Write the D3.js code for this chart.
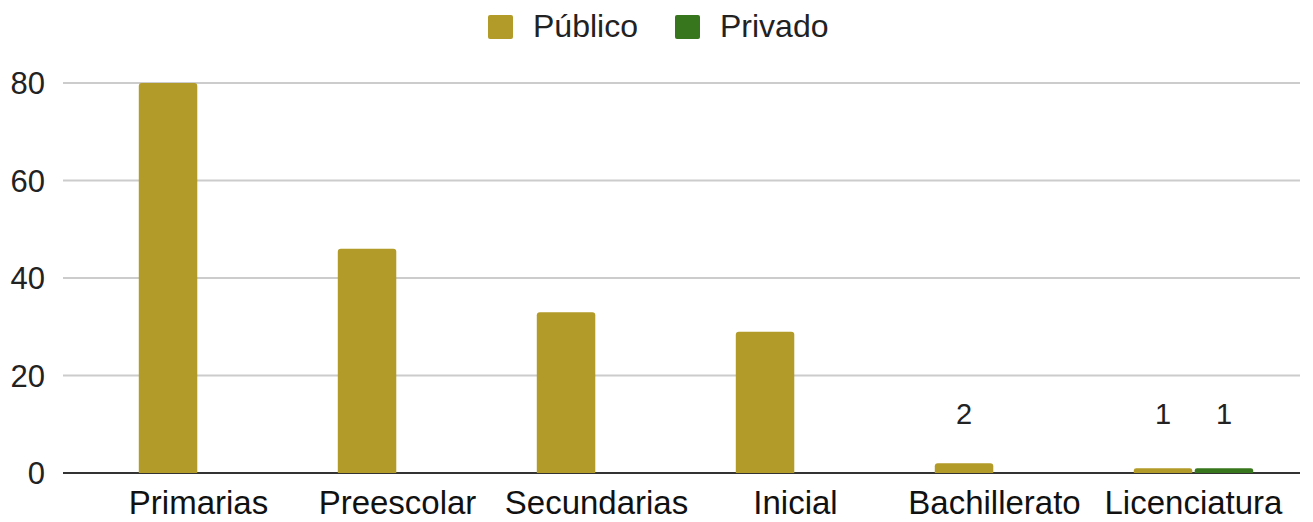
<!DOCTYPE html>
<meta charset="utf-8">
<script src="https://d3js.org/d3.v7.min.js"></script>

<style>
  body { margin: 0; background: #fff; }
  text { font-family: "Liberation Sans", Arial, sans-serif; }
</style>

<body>
  <svg id='svg'></svg>
</body>

<script>
  let width = 1313;
  let height = 522;

  let categories = ['Primarias', 'Preescolar', 'Secundarias', 'Inicial', 'Bachillerato', 'Licenciatura'];
  let series = ['Público', 'Privado'];
  let publico = [80, 46, 33, 29, 2, 1];
  let privado = [0, 0, 0, 0, 0, 1];
  let yTicks = [0, 20, 40, 60, 80];
  let colors = ['#b29b29', '#38761d'];

  let svg = d3.select('#svg')
    .attr('width', width)
    .attr('height', height);

  let x0 = d3.scaleBand()
    .domain(categories)
    .range([99, 1293])
    .paddingInner(0.4)
    .paddingOuter(0.2);

  let x1 = d3.scaleBand()
    .domain(series)
    .range([0, x0.bandwidth()])
    .paddingInner(0.04);

  let y = d3.scaleLinear()
    .domain([0, 80])
    .range([473, 83]);

  // gridlines
  svg.append('g')
    .selectAll('line')
    .data(yTicks)
    .enter()
    .append('line')
    .attr('x1', 63)
    .attr('x2', 1300)
    .attr('y1', d => y(d))
    .attr('y2', d => y(d))
    .attr('stroke', d => d === 0 ? '#333' : '#ccc')
    .attr('stroke-width', 2);

  svg.append('g')
    .selectAll('text')
    .data(yTicks)
    .enter()
    .append('text')
    .attr('x', 45)
    .attr('y', d => y(d))
    .attr('dy', '0.36em')
    .attr('text-anchor', 'end')
    .attr('font-size', 31)
    .attr('fill', '#222')
    .text(d => d);

  function barPath(x, w, y0, y1) {
    let r = Math.min(3, (y0 - y1) / 2, w / 2);
    return `M${x},${y0}V${y1 + r}Q${x},${y1} ${x + r},${y1}H${x + w - r}Q${x + w},${y1} ${x + w},${y1 + r}V${y0}Z`;
  }

  let rows = categories.map((c, i) => ({cat: c, vals: [publico[i], privado[i]]}));

  let groups = svg.append('g')
    .selectAll('g')
    .data(rows)
    .enter()
    .append('g')
    .attr('transform', d => `translate(${x0(d.cat)},0)`);

  groups.selectAll('path')
    .data(d => d.vals.map((v, j) => ({s: series[j], v: v, j: j})).filter(e => e.v > 0))
    .enter()
    .append('path')
    .attr('d', e => barPath(x1(e.s), x1.bandwidth(), y(0), y(e.v)))
    .attr('fill', e => colors[e.j]);

  // data labels (white on tall bars, dark on small ones)
  groups.selectAll('text')
    .data(d => d.vals.map((v, j) => ({s: series[j], v: v, j: j})).filter(e => e.v > 0))
    .enter()
    .append('text')
    .attr('x', e => x1(e.s) + x1.bandwidth() / 2)
    .attr('y', e => e.v > 5 ? y(e.v) - 12 : 424)
    .attr('text-anchor', 'middle')
    .attr('font-size', 29)
    .attr('fill', e => e.v > 5 ? '#fff' : '#222')
    .text(e => e.v);

  // category labels
  svg.append('g')
    .selectAll('text')
    .data(categories)
    .enter()
    .append('text')
    .attr('x', d => x0(d) + x0.bandwidth() / 2)
    .attr('y', 514)
    .attr('text-anchor', 'middle')
    .attr('font-size', 33)
    .attr('fill', '#111')
    .text(d => d);

  // legend
  let legendX = [488, 675];
  let legend = svg.append('g')
    .selectAll('g')
    .data(series)
    .enter()
    .append('g')
    .attr('transform', (d, i) => `translate(${legendX[i]},15)`);

  legend.append('rect')
    .attr('width', 25)
    .attr('height', 24)
    .attr('rx', 2)
    .attr('fill', (d, i) => colors[i]);

  legend.append('text')
    .attr('x', 45)
    .attr('y', 22)
    .attr('font-size', 32)
    .attr('fill', '#222')
    .text(d => d);
</script>
